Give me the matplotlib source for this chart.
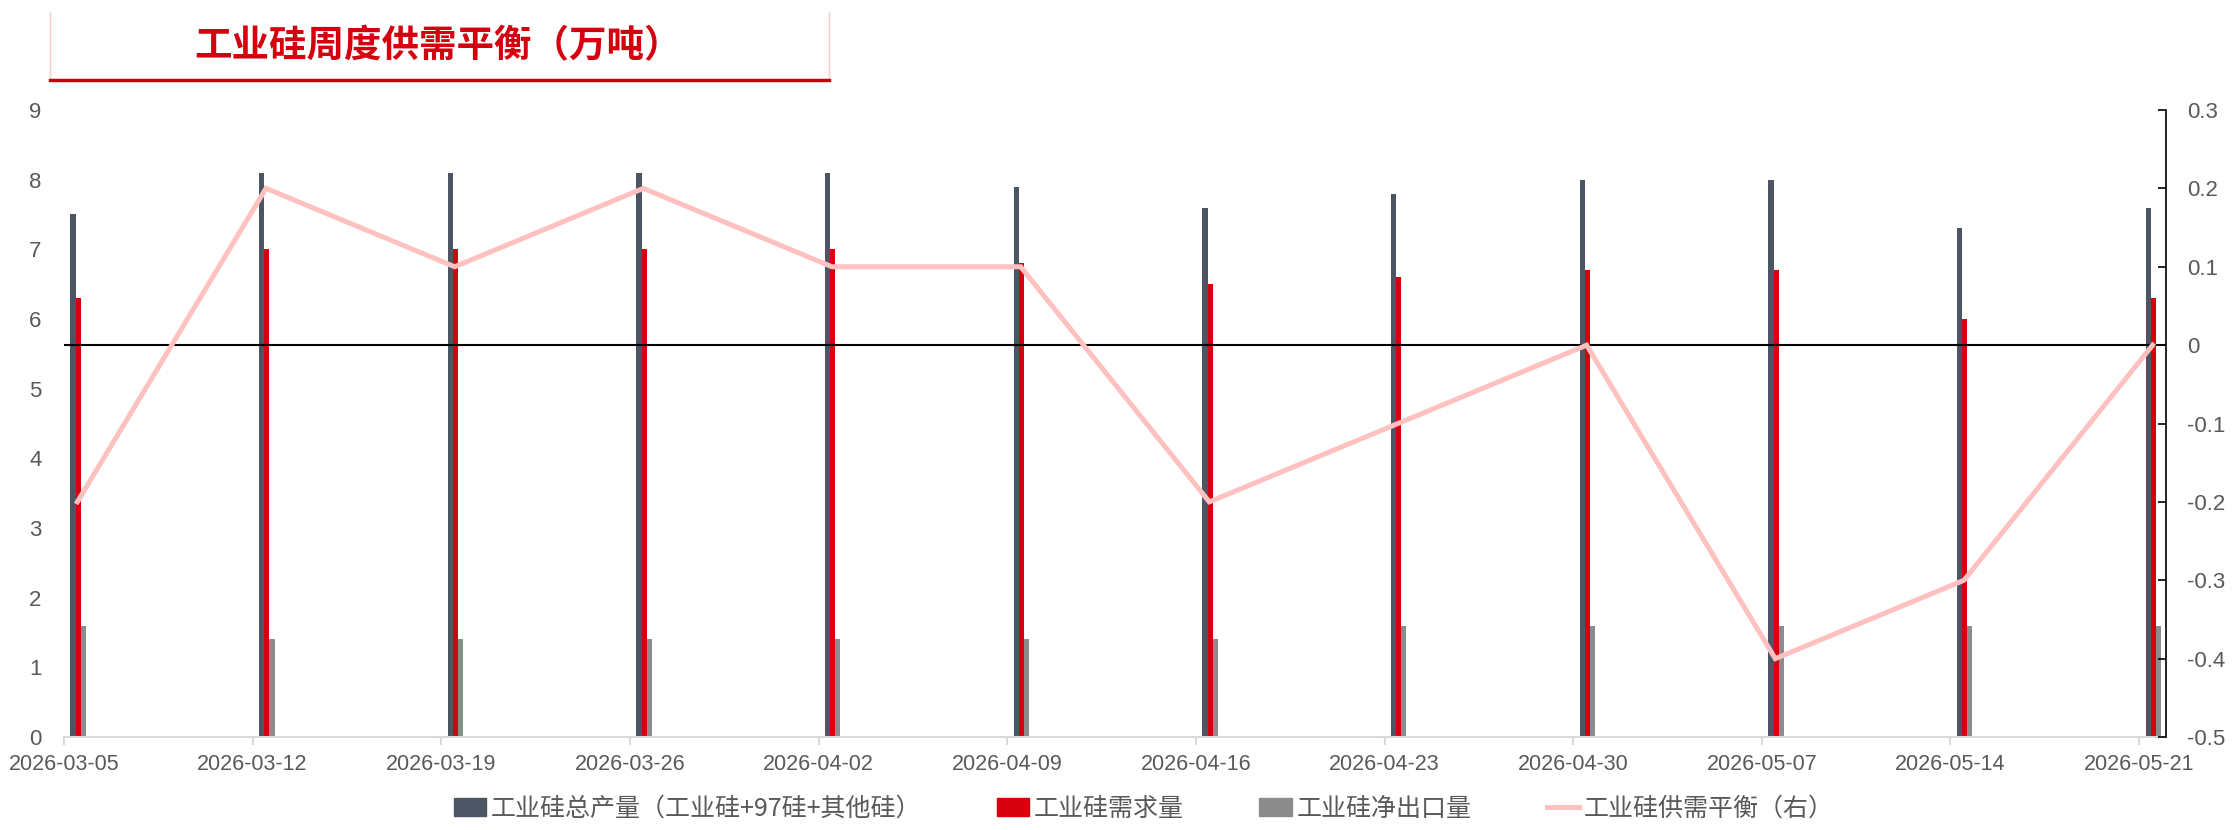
import matplotlib
import matplotlib.pyplot as plt
from matplotlib.patches import Rectangle
from matplotlib.lines import Line2D
import matplotlib.dates as mdates
import pandas as pd

matplotlib.use('Agg')

plt.rcParams['font.family'] = ['Liberation Sans', 'Noto Sans CJK SC', 'DejaVu Sans']
plt.rcParams['axes.unicode_minus'] = False

# weekly data, 10k tonnes
dates = ['2026-03-05', '2026-03-12', '2026-03-19', '2026-03-26', '2026-04-02',
         '2026-04-09', '2026-04-16', '2026-04-23', '2026-04-30', '2026-05-07',
         '2026-05-14', '2026-05-21']
supply = [7.5, 8.1, 8.1, 8.1, 8.1, 7.9, 7.6, 7.8, 8.0, 8.0, 7.3, 7.6]
demand = [6.3, 7.0, 7.0, 7.0, 7.0, 6.8, 6.5, 6.6, 6.7, 6.7, 6.0, 6.3]
net_export = [1.6, 1.4, 1.4, 1.4, 1.4, 1.4, 1.4, 1.6, 1.6, 1.6, 1.6, 1.6]
balance = [-0.2, 0.2, 0.1, 0.2, 0.1, 0.1, -0.2, -0.1, 0.0, -0.4, -0.3, 0.0]

names = ['工业硅总产量（工业硅+97硅+其他硅）', '工业硅需求量', '工业硅净出口量',
         '工业硅供需平衡（右）']
colors = ['#4B5563', '#D7000F', '#8C8C8C', '#FFC0C0']
txt_col = '#595959'
cjk = ['Noto Sans CJK SC', 'DejaVu Sans']

d = mdates.date2num(pd.to_datetime(dates))
mid = d + 0.5
bw = 0.19

fig = plt.figure(figsize=(22.34, 8.3), dpi=100)
ax = fig.add_axes([0.0286, 0.112, 0.941, 0.7555])
ax2 = ax.twinx()

ax.bar(mid + 0.03 - bw, supply, width=bw, color=colors[0], zorder=2)
ax.bar(mid + 0.03, demand, width=bw, color=colors[1], zorder=2)
ax.bar(mid + 0.03 + bw, net_export, width=bw, color=colors[2], zorder=2)

ax2.axhline(0, color='black', lw=1.5, zorder=1)
ax2.plot(mid, balance, color=colors[3], lw=3.6, solid_joinstyle='miter', zorder=3)

ax.set_xlim(d[0], d[-1] + 1)
ax.set_ylim(0, 9)
ax.set_yticks(range(0, 10))
ax2.set_ylim(-0.5, 0.3)
rt = [-0.5, -0.4, -0.3, -0.2, -0.1, 0, 0.1, 0.2, 0.3]
ax2.set_yticks(rt)
ax2.set_yticklabels(['%g' % v for v in rt])

ax.set_xticks(d)
ax.set_xticklabels(dates)

for s in ['top', 'left', 'right']:
    ax.spines[s].set_visible(False)
ax.spines['bottom'].set_color('#D9D9D9')
ax.spines['bottom'].set_linewidth(1.5)
for s in ['top', 'left', 'bottom']:
    ax2.spines[s].set_visible(False)
ax2.spines['right'].set_color('black')
ax2.spines['right'].set_linewidth(1.2)

ax.tick_params(axis='x', length=6, width=1.5, color='#D9D9D9', labelsize=15.5,
               labelcolor=txt_col, pad=6)
ax.tick_params(axis='y', length=0, labelsize=16, labelcolor=txt_col, pad=16)
ax2.tick_params(axis='y', direction='in', length=6, width=1.2, color='black',
                labelsize=16, labelcolor=txt_col, pad=15)

# title box: light side borders, red underline
x0, x1 = 50 / 2234, 829 / 2234
yb, yt = 1 - 80 / 830, 1 - 12 / 830
for xx in (x0, x1):
    fig.add_artist(Line2D([xx, xx], [yb, yt], transform=fig.transFigure,
                          color='#F4CACA', lw=1))
fig.add_artist(Line2D([x0, x1], [yb, yb], transform=fig.transFigure,
                      color='#C8000A', lw=2.5))
fig.text(438 / 2234, 1 - 46 / 830, '工业硅周度供需平衡（万吨）', family=cjk,
         fontsize=27, fontweight='heavy', color='#D40010', ha='center', va='center')

handles = [Rectangle((0, 0), 1, 1, color=colors[0]),
           Rectangle((0, 0), 1, 1, color=colors[1]),
           Rectangle((0, 0), 1, 1, color=colors[2]),
           Line2D([0], [0], color=colors[3], lw=3.6)]
fig.legend(handles, names, loc='lower center', bbox_to_anchor=(0.512, -0.017),
           ncol=4, frameon=False, handlelength=1.3, handletextpad=0.2,
           columnspacing=3.0, prop={'family': cjk, 'size': 18}, labelcolor=txt_col)

plt.savefig('out.png', dpi=100)
